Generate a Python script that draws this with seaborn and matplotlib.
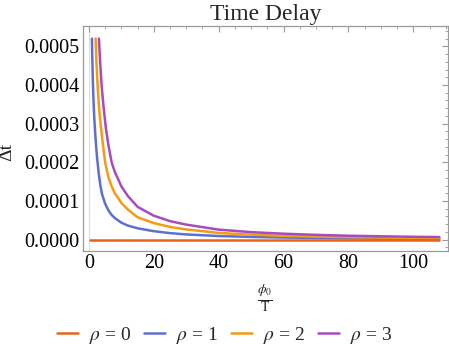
import matplotlib
matplotlib.use("Agg")
import matplotlib.pyplot as plt
import matplotlib.ticker as mticker
import numpy as np
import pandas as pd
import seaborn as sns

# values (curves are clipped at 0.00052)
x_rho0 = [0.3, 108]
dt_rho0 = [0.0, 0.0]

x_rho1 = [0.93, 1.0, 1.1, 1.2, 1.35, 1.5, 1.7, 2.0, 2.3, 2.6, 3.0, 3.5, 4, 5, 6, 7, 8, 10, 12, 15,
          20, 25, 30, 40, 50, 60, 70, 80, 90, 100, 108]
dt_rho1 = [5.2e-4, 4.85e-4, 4.5e-4, 4.15e-4, 3.75e-4, 3.42e-4, 3.08e-4, 2.68e-4, 2.33e-4, 2.05e-4,
           1.73e-4, 1.42e-4, 1.19e-4, 9.3e-5, 7.6e-5, 6.4e-5, 5.6e-5, 4.4e-5, 3.65e-5, 2.95e-5,
           2.2e-5, 1.7e-5, 1.36e-5, 9.5e-6, 7.2e-6, 5.6e-6, 4.5e-6, 3.7e-6, 3.1e-6, 2.6e-6, 2.3e-6]

x_rho2 = [2.07, 2.2, 2.4, 2.7, 3.0, 3.4, 3.8, 4.3, 5, 6, 7, 8, 10, 12, 15, 20, 25, 30, 40, 50, 60,
          70, 80, 90, 100, 108]
dt_rho2 = [5.2e-4, 4.85e-4, 4.45e-4, 3.95e-4, 3.55e-4, 3.15e-4, 2.83e-4, 2.47e-4, 2.0e-4, 1.62e-4,
           1.38e-4, 1.2e-4, 9.5e-5, 7.8e-5, 5.8e-5, 4.3e-5, 3.3e-5, 2.65e-5, 1.75e-5, 1.3e-5,
           9.9e-6, 7.9e-6, 6.5e-6, 5.4e-6, 4.6e-6, 4.1e-6]

x_rho3 = [3.1, 3.3, 3.6, 4.0, 4.5, 5.2, 6, 7, 8, 10, 12, 15, 20, 25, 30, 40, 50, 60, 70, 80, 90,
          100, 108]
dt_rho3 = [5.2e-4, 4.85e-4, 4.4e-4, 3.9e-4, 3.45e-4, 2.9e-4, 2.45e-4, 2.0e-4, 1.75e-4, 1.38e-4,
           1.13e-4, 8.5e-5, 6.2e-5, 4.8e-5, 3.9e-5, 2.6e-5, 1.95e-5, 1.55e-5, 1.25e-5, 1.03e-5,
           8.8e-6, 7.5e-6, 6.8e-6]

labels = [r"$\rho$ = 0", r"$\rho$ = 1", r"$\rho$ = 2", r"$\rho$ = 3"]
colors = ["#E8621F", "#5E6FD0", "#F39C12", "#A64CC0"]

frames = []
for lab, xs, ys in zip(labels, [x_rho0, x_rho1, x_rho2, x_rho3], [dt_rho0, dt_rho1, dt_rho2, dt_rho3]):
    frames.append(pd.DataFrame({"phi": xs, "dt": ys, "rho": lab}))
df = pd.concat(frames, ignore_index=True)

sns.set_style("white")
plt.rcParams["font.family"] = ["Liberation Serif", "DejaVu Serif"]
plt.rcParams["mathtext.fontset"] = "stix"

fig = plt.figure(figsize=(4.49, 3.54), dpi=100)
ax = fig.add_axes([0.184, 0.291, 0.814, 0.636])

ax.axvline(0, color="#dddddd", lw=0.8, zorder=0)
sns.lineplot(data=df, x="phi", y="dt", hue="rho", palette=colors, estimator=None,
             sort=True, lw=1.8, ax=ax, legend=True)

ax.set_xlim(-1.94, 110.7)
ax.set_ylim(-0.0000292, 0.000553)
ax.xaxis.set_major_locator(mticker.MultipleLocator(20))
ax.xaxis.set_minor_locator(mticker.MultipleLocator(5))
ax.yaxis.set_major_locator(mticker.MultipleLocator(0.0001))
ax.yaxis.set_minor_locator(mticker.MultipleLocator(0.00002))
ax.yaxis.set_major_formatter(mticker.FormatStrFormatter("%.4f"))

for sp in ax.spines.values():
    sp.set_color("#9a9a9a")
    sp.set_linewidth(0.9)
ax.tick_params(which="both", direction="in", top=True, right=True, color="#9a9a9a",
               labelsize=14.5, labelcolor="black")
ax.tick_params(which="major", length=4.5, width=0.8, pad=2.5)
ax.tick_params(which="minor", length=2.5, width=0.6)

ax.set_title("Time Delay", fontsize=17, pad=4)
ax.set_xlabel(r"$\frac{\phi_0}{\mathrm{T}}$", fontsize=14)
ax.xaxis.set_label_coords(0.5, -0.14)
ax.set_ylabel("Δt", fontsize=14)
ax.yaxis.set_label_coords(-0.183, 0.44)

handles, labs = ax.get_legend_handles_labels()
ax.get_legend().remove()
fig.legend(handles, labs, loc="center", bbox_to_anchor=(0.5, 0.052), ncol=4, frameon=False,
           fontsize=14, handlelength=1.1, columnspacing=0.65, handletextpad=0.55)

fig.savefig("out.png", dpi=100)
